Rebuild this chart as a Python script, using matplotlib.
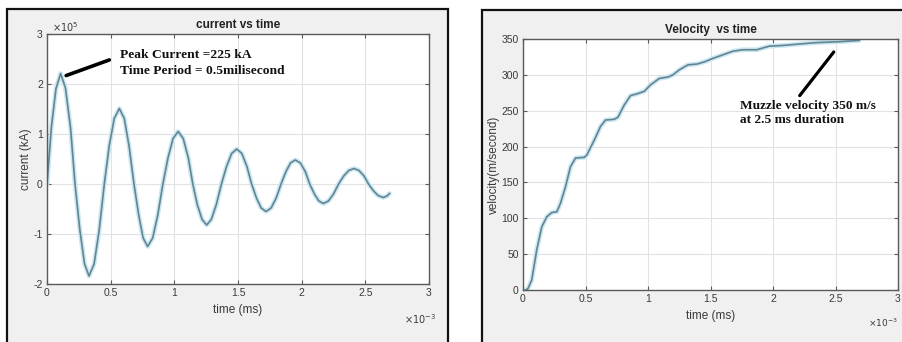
import numpy as np
import matplotlib
matplotlib.use("Agg")
import matplotlib.pyplot as plt
from matplotlib.patches import Rectangle

# current vs time (time in ms, current in units of 1e5)
t_cur = [0, 0.035, 0.07, 0.107, 0.145, 0.185, 0.22,
         0.258, 0.295, 0.33, 0.37, 0.41, 0.45,
         0.488, 0.528, 0.568, 0.607, 0.645, 0.683,
         0.72, 0.755, 0.79, 0.83, 0.87, 0.91,
         0.95, 0.99, 1.03, 1.07, 1.11, 1.145,
         1.18, 1.218, 1.254, 1.29, 1.33, 1.37,
         1.41, 1.45, 1.49, 1.53, 1.57, 1.607,
         1.645, 1.682, 1.72, 1.76, 1.8, 1.838,
         1.875, 1.912, 1.95, 1.99, 2.03, 2.063,
         2.1, 2.135, 2.17, 2.21, 2.25, 2.29,
         2.33, 2.37, 2.41, 2.45, 2.49, 2.525,
         2.565, 2.6, 2.64, 2.67, 2.69]
cur = [0, 1.15, 1.9, 2.21, 1.92, 1.12, 0,
       -0.92, -1.6, -1.84, -1.6, -0.92, 0,
       0.75, 1.31, 1.51, 1.31, 0.75, 0,
       -0.62, -1.08, -1.25, -1.08, -0.62, 0,
       0.52, 0.91, 1.05, 0.91, 0.52, 0,
       -0.41, -0.71, -0.82, -0.71, -0.41, 0,
       0.35, 0.61, 0.70, 0.61, 0.35, 0,
       -0.28, -0.48, -0.55, -0.48, -0.28, 0,
       0.24, 0.42, 0.48, 0.42, 0.24, 0,
       -0.2, -0.34, -0.39, -0.34, -0.2, 0,
       0.16, 0.27, 0.31, 0.27, 0.16, 0,
       -0.14, -0.23, -0.27, -0.24, -0.19]

# velocity vs time (time in ms, velocity in m/s)
t_vel = [0.02, 0.04, 0.07, 0.11, 0.15, 0.19, 0.23, 0.27, 0.30, 0.34, 0.38,
         0.42, 0.49, 0.51, 0.57, 0.62, 0.66, 0.73, 0.76, 0.81, 0.86, 0.92,
         0.97, 1.02, 1.09, 1.16, 1.20, 1.25, 1.32, 1.39, 1.45, 1.52, 1.60,
         1.68, 1.76, 1.87, 1.97, 2.08, 2.21, 2.35, 2.51, 2.69]
vel = [0, 2, 14, 56, 88, 102, 108, 109, 121, 144, 172,
       184, 185, 188, 209, 228, 237, 238, 241, 258, 271, 274,
       277, 286, 295, 297, 300, 307, 314, 315, 318, 323, 328,
       333, 335, 335, 340, 341, 343, 345, 346, 348]

x_ticks = [0, 0.5, 1, 1.5, 2, 2.5, 3]
x_ticklabels = ['0', '0.5', '1', '1.5', '2', '2.5', '3']
cur_ticks = [-2, -1, 0, 1, 2, 3]
vel_ticks = [0, 50, 100, 150, 200, 250, 300, 350]

W, H = 902, 342
fig = plt.figure(figsize=(W / 100, H / 100), dpi=100)
fig.patch.set_facecolor('white')

# grey MATLAB-like panels
fig.patches.append(Rectangle((7 / W, -0.05), 441 / W, 1.05 - 9 / H, transform=fig.transFigure,
                             facecolor='#f0f0f0', edgecolor='#111111', lw=1.6, zorder=-5))
fig.patches.append(Rectangle((482 / W, -0.05), 430 / W, 1.05 - 10 / H, transform=fig.transFigure,
                             facecolor='#f0f0f0', edgecolor='#111111', lw=1.6, zorder=-5))

tick_font = ['Liberation Sans Narrow', 'Liberation Sans']
tick_col = '#3a3a3a'


def style_axes(ax):
    ax.set_facecolor('white')
    ax.grid(True, color='#e2e2e2', lw=0.8)
    ax.set_axisbelow(True)
    for s in ax.spines.values():
        s.set_color('#5a5a5a')
        s.set_linewidth(1.0)
    ax.tick_params(direction='in', top=True, right=True, length=3, width=0.8,
                   colors='#5a5a5a', labelcolor=tick_col, labelsize=7.5, pad=3)
    for lab in ax.get_xticklabels() + ax.get_yticklabels():
        lab.set_family(tick_font)


def draw_line(ax, x, y):
    ax.plot(x, y, color='#c9e8f4', lw=3.4, solid_capstyle='round')
    ax.plot(x, y, color='#66848f', lw=1.2)


# ---- left: current vs time
ax1 = fig.add_axes([47 / W, 58 / H, 382 / W, 250 / H])
t1 = np.array(t_cur) * 1e-3
c1 = np.array(cur) * 1e5
draw_line(ax1, t1, c1)
ax1.set_xlim(0, 3e-3)
ax1.set_ylim(-2e5, 3e5)
ax1.set_xticks([v * 1e-3 for v in x_ticks])
ax1.set_xticklabels(x_ticklabels)
ax1.set_yticks([v * 1e5 for v in cur_ticks])
ax1.set_yticklabels([str(v) for v in cur_ticks])
style_axes(ax1)
ax1.set_title('current vs time', fontsize=8.5, fontweight='bold', family='Liberation Sans',
              color='#222222', pad=4)
ax1.set_xlabel('time (ms)', fontsize=8.5, family=tick_font, color=tick_col, labelpad=4)
ax1.set_ylabel('current (kA)', fontsize=8.5, family=tick_font, color=tick_col, labelpad=1)
fig.text(52 / W, 1 - 27 / H, r'$\times10^{5}$', fontsize=7, color=tick_col, ha='left', va='center')
fig.text(404 / W, 1 - 319 / H, r'$\times10^{-3}$', fontsize=7, color=tick_col, ha='left', va='center')

ax1.annotate('', xy=(0.13e-3, 2.15e5), xytext=(0.51e-3, 2.5e5),
             arrowprops=dict(arrowstyle='-', color='black', lw=2.6))
ax1.text(0.57e-3, 2.42e5, 'Peak Current =225 kA\nTime Period = 0.5milisecond',
         fontsize=9.7, fontweight='bold', family='Liberation Serif', color='#111111',
         ha='left', va='center', linespacing=1.35)

# ---- right: velocity vs time
ax2 = fig.add_axes([523 / W, 52 / H, 375 / W, 251 / H])
t2 = np.array(t_vel) * 1e-3
draw_line(ax2, t2, vel)
ax2.set_xlim(0, 3e-3)
ax2.set_ylim(0, 350)
ax2.set_xticks([v * 1e-3 for v in x_ticks])
ax2.set_xticklabels(x_ticklabels)
ax2.set_yticks(vel_ticks)
style_axes(ax2)
ax2.set_title('Velocity  vs time', fontsize=8.5, fontweight='bold', family='Liberation Sans',
              color='#222222', pad=4)
ax2.set_xlabel('time (ms)', fontsize=8.5, family=tick_font, color=tick_col, labelpad=4)
ax2.set_ylabel('velocity(m/second)', fontsize=8.5, family=tick_font, color=tick_col, labelpad=1)
fig.text(868 / W, 1 - 323 / H, r'$\times10^{-3}$', fontsize=6.5, color=tick_col, ha='left', va='center')

ax2.annotate('', xy=(2.5e-3, 335), xytext=(2.2e-3, 268),
             arrowprops=dict(arrowstyle='-', color='black', lw=2.3))
ax2.text(1.74e-3, 247, 'Muzzle velocity 350 m/s\nat 2.5 ms duration',
         fontsize=9.6, fontweight='bold', family='Liberation Serif', color='#111111',
         ha='left', va='center', linespacing=1.3)

fig.savefig('out.png', dpi=100)
